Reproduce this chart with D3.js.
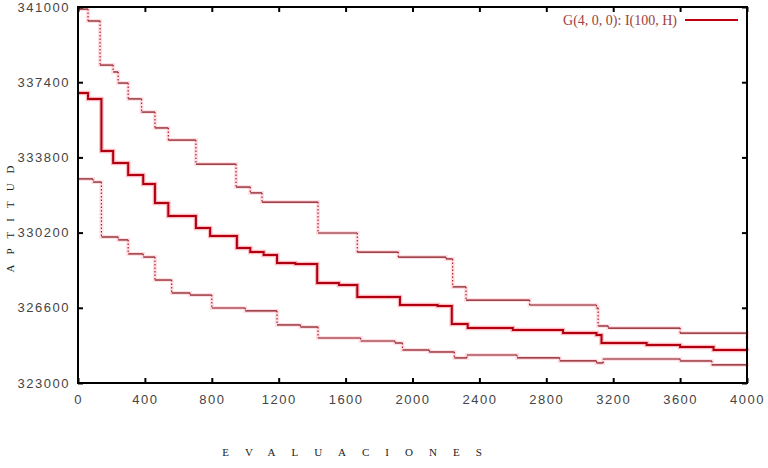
<!DOCTYPE html>
<html>
<head>
<meta charset="utf-8">
<script src="https://cdn.jsdelivr.net/npm/d3@7"></script>
<style>
  body { margin: 0; background: #fff; }
  .tick text { font-family: "Liberation Sans", Arial, sans-serif; font-size: 13px; fill: #444; letter-spacing: 1.5px; }
</style>
</head>
<body>
<div id="chart"></div>
<script>
// evaluations (x) where the value changes, and the value from there on
const upperX = [0, 60, 132, 210, 240, 300, 380, 460, 540, 705, 945, 1030, 1100, 1435, 1670, 1915, 2200, 2240, 2320, 2700, 3100, 3110, 3170, 3600, 4000];
const upperY = [340900, 340330, 338220, 337890, 337360, 336600, 335970, 335210, 334630, 333480, 332380, 332100, 331660, 330180, 329270, 329030, 328940, 327600, 326970, 326735, 326590, 325730, 325630, 325390, 325110];

const meanX = [0, 60, 140, 210, 300, 390, 460, 540, 705, 790, 950, 1030, 1110, 1190, 1300, 1430, 1560, 1670, 1925, 2150, 2235, 2330, 2600, 2900, 3100, 3130, 3400, 3600, 3800, 4000];
const meanY = [336880, 336600, 334110, 333530, 332960, 332530, 331620, 331000, 330420, 330040, 329460, 329270, 329130, 328745, 328700, 327790, 327690, 327120, 326735, 326690, 325825, 325635, 325540, 325395, 325300, 324915, 324820, 324725, 324580, 324535];

const lowerX = [0, 90, 140, 240, 300, 390, 460, 560, 670, 800, 1000, 1190, 1330, 1435, 1690, 1895, 1940, 2100, 2250, 2325, 2625, 2880, 3100, 3140, 3600, 3790, 4000];
const lowerY = [332770, 332620, 329990, 329850, 329180, 329030, 327930, 327310, 327210, 326590, 326450, 325780, 325680, 325155, 325010, 324915, 324580, 324485, 324200, 324340, 324200, 324055, 323960, 324150, 324055, 323865, 323815];

const xTicks = [0, 400, 800, 1200, 1600, 2000, 2400, 2800, 3200, 3600, 4000];
const yTicks = [323000, 326600, 330200, 333800, 337400, 341000];
const legendLabel = "G(4, 0, 0): I(100, H)";

const width = 768;
const height = 468;
const marginTop = 7;
const marginRight = 21;
const marginBottom = 85;
const marginLeft = 78;

const svg = d3.select("#chart").append("svg")
  .attr("width", width)
  .attr("height", height);

const x = d3.scaleLinear()
  .domain([0, 4000])
  .range([marginLeft, width - marginRight]);

const y = d3.scaleLinear()
  .domain([323000, 341000])
  .range([height - marginBottom, marginTop]);

const line = d3.line()
  .x(d => x(d[0]))
  .y(d => y(d[1]))
  .curve(d3.curveStepAfter);

const toPts = (xs, ys) => xs.map((v, i) => [v, ys[i]]);

// bounds: solid treads, dotted risers
for (let [xs, ys] of [[upperX, upperY], [lowerX, lowerY]]) {
  svg.append("path")
    .attr("d", line(toPts(xs, ys)))
    .attr("fill", "none")
    .attr("stroke", "#ffc0c8")
    .attr("stroke-opacity", 0.5)
    .attr("stroke-width", 4);

  const g = svg.append("g");
  for (let i = 0; i < xs.length - 1; i++) {
    g.append("line")
      .attr("x1", x(xs[i])).attr("x2", x(xs[i + 1]))
      .attr("y1", y(ys[i])).attr("y2", y(ys[i]))
      .attr("stroke", "#801018")
      .attr("stroke-width", 1.2);
    g.append("line")
      .attr("x1", x(xs[i + 1])).attr("x2", x(xs[i + 1]))
      .attr("y1", y(ys[i])).attr("y2", y(ys[i + 1]))
      .attr("stroke", "#b02030")
      .attr("stroke-width", 1.2)
      .attr("stroke-dasharray", "1.5,2");
  }
}

// mean
const meanPts = toPts(meanX, meanY);
svg.append("path")
  .attr("d", line(meanPts))
  .attr("fill", "none")
  .attr("stroke", "#ff6070")
  .attr("stroke-opacity", 0.45)
  .attr("stroke-width", 4.5);
svg.append("path")
  .attr("d", line(meanPts))
  .attr("fill", "none")
  .attr("stroke", "#b00010")
  .attr("stroke-width", 2);

// axes (gnuplot style: ticks inward, mirrored)
svg.append("g")
  .attr("transform", `translate(0,${height - marginBottom})`)
  .call(d3.axisBottom(x).tickValues(xTicks).tickFormat(d3.format("d")).tickSizeInner(-5).tickSizeOuter(0).tickPadding(12));

svg.append("g")
  .attr("transform", `translate(${marginLeft},0)`)
  .call(d3.axisLeft(y).tickValues(yTicks).tickFormat(d3.format("d")).tickSizeInner(-5).tickSizeOuter(0).tickPadding(8));

svg.append("g")
  .attr("transform", `translate(0,${marginTop})`)
  .call(d3.axisTop(x).tickValues(xTicks).tickSizeInner(-5).tickSizeOuter(0).tickFormat(""));

svg.append("g")
  .attr("transform", `translate(${width - marginRight},0)`)
  .call(d3.axisRight(y).tickValues(yTicks).tickSizeInner(-5).tickSizeOuter(0).tickFormat(""));

svg.selectAll(".domain").remove();
svg.selectAll(".tick line").attr("stroke", "#000").attr("stroke-width", 2);

svg.append("rect")
  .attr("x", marginLeft)
  .attr("y", marginTop)
  .attr("width", width - marginLeft - marginRight)
  .attr("height", height - marginTop - marginBottom)
  .attr("fill", "none")
  .attr("stroke", "#000")
  .attr("stroke-width", 2);

// axis titles
svg.append("text")
  .attr("x", 360)
  .attr("y", 456)
  .attr("text-anchor", "middle")
  .attr("font-family", "Liberation Serif, serif")
  .attr("font-size", 11)
  .attr("letter-spacing", 16)
  .attr("fill", "#222")
  .text("EVALUACIONES");

svg.append("text")
  .attr("transform", "translate(14,214) rotate(-90)")
  .attr("text-anchor", "middle")
  .attr("font-family", "Liberation Serif, serif")
  .attr("font-size", 11)
  .attr("letter-spacing", 10)
  .attr("fill", "#222")
  .text("APTITUD");

// legend
svg.append("text")
  .attr("x", 677)
  .attr("y", 25)
  .attr("text-anchor", "end")
  .attr("font-family", "Liberation Serif, serif")
  .attr("font-size", 14)
  .attr("fill", "#a04040")
  .text(legendLabel);

svg.append("line")
  .attr("x1", 685).attr("x2", 738)
  .attr("y1", 20).attr("y2", 20)
  .attr("stroke", "#c00010")
  .attr("stroke-width", 2);
</script>
</body>
</html>
